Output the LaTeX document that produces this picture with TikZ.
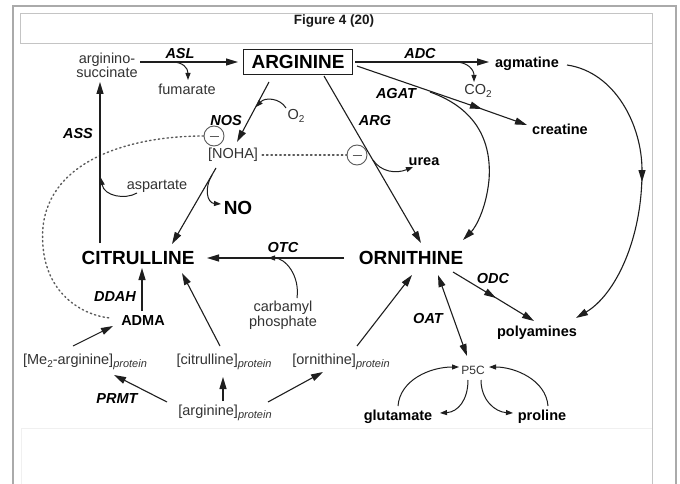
\documentclass[tikz,border=0pt]{standalone}
\usepackage{fontspec}
\setmainfont{Liberation Sans}
\usetikzlibrary{arrows.meta,calc}
\definecolor{linec}{HTML}{1E1E1E}
\definecolor{textg}{HTML}{333333}
\definecolor{framec}{HTML}{AAAAAA}
\definecolor{framei}{HTML}{C4C4C4}
\definecolor{inhc}{HTML}{5A5A5A}
\newcommand{\protsub}{\raisebox{-3.5pt}{\fontsize{11}{11}\selectfont\itshape protein}}
\newcommand{\lowtwo}{\raisebox{-3pt}{\fontsize{10}{10}\selectfont 2}}
\tikzset{
  arr/.style={line width=1.1pt, draw=linec, -{Triangle[length=12pt,width=7pt]}},
  darr/.style={line width=1.1pt, draw=linec, {Triangle[length=12pt,width=7pt]}-{Triangle[length=12pt,width=7pt]}},
  sarr/.style={line width=1pt, draw=linec, -{Triangle[length=7pt,width=5pt]}},
  dotline/.style={line width=1.4pt, draw=inhc, dash pattern=on 1.4pt off 3pt, line cap=round},
  big/.style={font=\fontsize{19}{19}\selectfont\bfseries, text=black, inner sep=0pt},
  lab/.style={font=\fontsize{14.5}{14.5}\selectfont\bfseries\itshape, text=black, inner sep=0pt},
  bname/.style={font=\fontsize{14.5}{14.5}\selectfont\bfseries, text=black, inner sep=0pt},
  reg/.style={font=\fontsize{14.5}{14}\selectfont, text=textg, inner sep=0pt, align=center},
  inh/.style={circle, draw=inhc, line width=0.9pt, minimum size=20pt, inner sep=0pt, text=inhc},
}
\begin{document}
\begin{tikzpicture}[x=1pt,y=-1pt]
\useasboundingbox (0,0) rectangle (680,484);
\fill[white] (0,0) rectangle (680,484);
% frames
\draw[framec, line width=1.3pt] (13,484) -- (13,6) -- (676,6) -- (676,484);
\draw[framei, line width=1pt] (20,44) -- (20,14) -- (652,14) -- (652,484);
\draw[framei, line width=1pt] (20,44) -- (652,44);
\draw[black!6, line width=0.8pt] (21,484) -- (21,428) -- (652,428);
\node[font=\fontsize{13.5}{13.5}\selectfont\bfseries, text=black!90, inner sep=0pt] (title) at (334,21) {Figure 4 (20)};

% nodes
\node[reg] (argsucc) at (107,65) {arginino-\\succinate};
\node[big, draw=linec, line width=1.4pt, minimum width=109pt, minimum height=25pt] (arg) at (298,62) {ARGININE};
\node[lab] (asl) at (180,54) {ASL};
\node[reg] (fum) at (187,89) {fumarate};
\node[lab] (nos) at (226,121) {NOS};
\node[reg] (o2) at (296,116) {O\lowtwo};
\node[inh] (inhA) at (214,136) {\rule{9pt}{0.9pt}};
\node[reg] (noha) at (233,155) {[NOHA]};
\node[inh] (inhB) at (357,155) {\rule{9pt}{0.9pt}};
\node[lab] (ass) at (78,134) {ASS};
\node[reg] (asp) at (157,186) {aspartate};
\node[big] (cit) at (138,258) {CITRULLINE};
\node[big] (no) at (238,208) {NO};
\node[lab] (otc) at (283,248) {OTC};
\node[big] (orn) at (411,258) {ORNITHINE};
\node[reg] (carb) at (283,315) {carbamyl\\[1pt]phosphate};
\node[lab] (ddah) at (115,297) {DDAH};
\node[bname] (adma) at (143,321) {ADMA};
\node[lab] (argl) at (375,121) {ARG};
\node[lab] (agat) at (396,94) {AGAT};
\node[lab] (adc) at (420,54) {ADC};
\node[bname] (agm) at (527,64) {agmatine};
\node[reg] (co2) at (478,91) {CO\lowtwo};
\node[bname] (crea) at (560,129) {creatine};
\node[bname] (urea) at (424,162) {urea};
\node[lab] (odc) at (493,279) {ODC};
\node[bname] (poly) at (537,333) {polyamines};
\node[lab] (oat) at (428,319) {OAT};
\node[reg, font=\fontsize{12}{12}\selectfont] (p5c) at (473,370) {P5C};
\node[bname] (glu) at (398,417) {glutamate};
\node[bname] (pro) at (542,417) {proline};
\node[reg] (me2) at (85,362) {[Me\raisebox{-3pt}{\fontsize{10}{10}\selectfont 2}-arginine]\protsub};
\node[reg] (citp) at (224,362) {[citrulline]\protsub};
\node[reg] (ornp) at (341,362) {[ornithine]\protsub};
\node[reg] (argp) at (225,413) {[arginine]\protsub};
\node[lab] (prmt) at (117,399) {PRMT};

% points on connectors
\coordinate (fumA) at ($(argsucc)+(65,-3)$);
\coordinate (o2B) at ($(arg)+(-42,45)$);
\coordinate (aspB) at ($(cit)+(-37,-80)$);
\coordinate (noA) at (212,175);
\coordinate (carbB) at ($(orn)+(-143,0)$);
\coordinate (ureaA) at (373,160);
\coordinate (co2A) at ($(arg)+(157,0)$);
\coordinate (agatA) at (430,92);
\coordinate (agatM) at (482,109);
\coordinate (agatN) at (470,104.8);
\coordinate (agmM) at (642,182);
\coordinate (agmN) at (642,172);
\coordinate (odcM) at (496,298);
\coordinate (odcN) at (488,293);

% connectors
\draw[arr] ($(argsucc)+(33,-3)$) -- ($(arg)+(-60,0)$);
\draw[sarr] (fumA) .. controls (183,62) and (188,68) .. ($(fum)+(1,-9)$);
\draw[arr] ($(arg)+(-29,20)$) -- ($(noha)+(4,-13)$);
\draw[sarr] ($(o2)+(-10,-8)$) .. controls (280,98) and (265,97) .. (o2B);
\draw[dotline] (inhA.west) .. controls (130,136) and (50,160) .. (43,227) .. controls (38,290) and (80,315) .. ($(adma)+(-33,-3)$);
\draw[dotline] ([xshift=4pt]noha.east) -- (inhB.west);
\draw[arr] ($(cit)+(-38,-15)$) -- ($(argsucc)+(-7,17)$);
\draw[sarr] ($(asp)+(-20,7)$) .. controls (125,200) and (104,196) .. (aspB);
\draw[arr] ($(noha)+(-17,13)$) -- ($(cit)+(34,-14)$);
\draw[sarr] (noA) .. controls (204,188) and (207,203) .. ($(no)+(-17,-4)$);
\draw[arr] ($(orn)+(-67,0)$) -- ($(cit)+(69,0)$);
\draw[sarr] ($(carb)+(14,-17)$) .. controls (300,275) and (285,258) .. (carbB);
\draw[arr] ($(adma)+(-1,-10)$) -- ($(cit)+(4,10)$);
\draw[arr] ($(arg)+(26,14)$) -- ($(orn)+(10,-15)$);
\draw[sarr] (ureaA) .. controls (381,172) and (396,174) .. ($(urea)+(-11,5)$);
\draw[arr] ($(arg)+(57,0)$) -- ($(agm)+(-38,-2)$);
\draw[sarr] (co2A) .. controls (468,62) and (474,70) .. ($(co2)+(-4,-9)$);
\draw[arr] ($(arg)+(59,4)$) -- (agatM);
\draw[arr] (agatN) -- ($(crea)+(-33,-4)$);
\draw[arr] (agatA) .. controls (475,108) and (492,140) .. (489,180) .. controls (486,210) and (475,228) .. ($(orn)+(52,-18)$);
\draw[arr] ($(agm)+(40,1)$) .. controls (615,72) and (642,125) .. (agmM);
\draw[arr] (agmN) .. controls (642,240) and (615,295) .. ($(poly)+(39,-15)$);
\draw[arr] ($(orn)+(42,14)$) -- (odcM);
\draw[arr] (odcN) -- ($(poly)+(-3,-12)$);
\draw[darr] ($(orn)+(27,17)$) -- ($(p5c)+(-6,-14)$);
\draw[sarr] ($(glu)+(0,-11)$) .. controls (400,380) and (430,367) .. ($(p5c)+(-14,-3)$);
\draw[sarr] ($(p5c)+(-5,10)$) .. controls (468,400) and (458,412) .. ($(glu)+(42,-4)$);
\draw[sarr] ($(p5c)+(8,10)$) .. controls (481,400) and (495,412) .. ($(pro)+(-29,-4)$);
\draw[sarr] ($(pro)+(6,-11)$) .. controls (546,380) and (515,367) .. ($(p5c)+(16,-3)$);
\draw[arr] ($(argp)+(-58,-11)$) -- ($(me2)+(29,13)$);
\draw[arr] ($(argp)+(-2,-12)$) -- ($(citp)+(-1,15)$);
\draw[arr] ($(argp)+(43,-11)$) -- ($(ornp)+(-18,10)$);
\draw[arr] ($(ornp)+(16,-16)$) -- ($(orn)+(1,17)$);
\draw[arr] ($(citp)+(-4,-16)$) -- ($(cit)+(44,15)$);
\draw[arr] ($(me2)+(-12,-16)$) -- ($(adma)+(-30,5)$);
\end{tikzpicture}
\end{document}
